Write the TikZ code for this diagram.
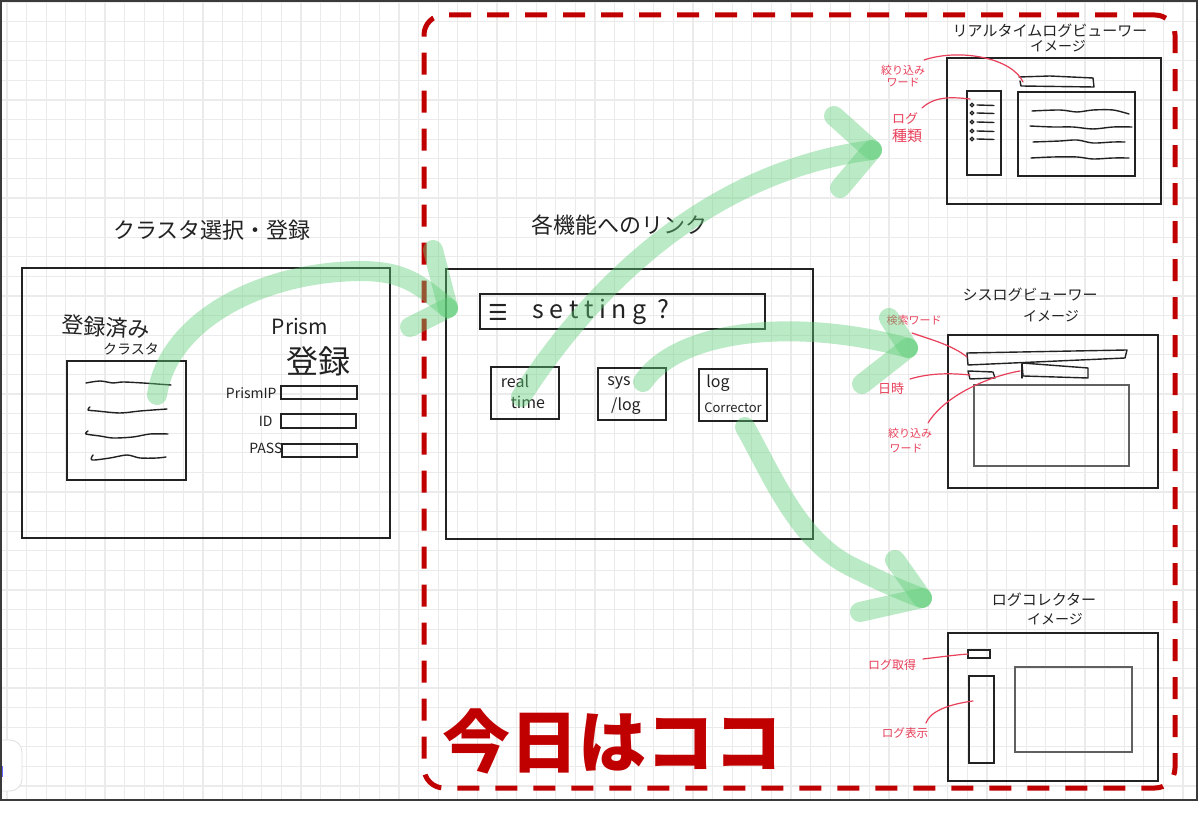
\documentclass[tikz,border=0pt]{standalone}
\usepackage{fontspec}
\setmainfont{Noto Sans CJK JP}
\newfontfamily\symfont{DejaVu Sans}
\usetikzlibrary{fit}
\definecolor{dred}{HTML}{C00000}
\definecolor{ared}{HTML}{E8405A}
\definecolor{gline}{HTML}{EBEBEB}
\definecolor{ink}{HTML}{222222}
\definecolor{framec}{HTML}{3A3A3A}
\definecolor{garrow}{HTML}{5FCF78}
\newcommand\myfs[1]{\fontsize{#1pt}{#1pt}\selectfont}
\newcommand\pxbox[6][]{\coordinate (#2-a) at (#3,#4);\coordinate (#2-b) at (#5,#6);\node[fit=(#2-a)(#2-b),inner sep=0pt,outer sep=0pt,#1] (#2) {};}
\begin{document}
\begin{tikzpicture}[x=0.5pt,y=-0.5pt,
  box/.style={draw=ink,line width=0.75pt},
  lbox/.style={draw=gray!75!black,line width=0.6pt},
  inkline/.style={draw=ink,line width=0.7pt,line cap=round,line join=round},
  hand/.style={inner sep=0pt,text=ink},
  anno/.style={inner sep=0pt,text=ared},
  annoline/.style={draw=ared,line width=0.6pt,line cap=round},
  greenarrow/.style={draw=garrow,draw opacity=0.42,line width=10pt,line cap=round,line join=round}]
\useasboundingbox (0,0) rectangle (1200,833);
\fill[white] (0,0) rectangle (1200,833);
% grid
\begin{scope}
\clip (2,2) rectangle (1197,800);
\foreach \i in {0,...,60} \draw[gline,line width=0.65pt] ({7+19.6*\i},0) -- ({7+19.6*\i},800);
\foreach \i in {0,...,40} \draw[gline,line width=0.65pt] (0,{2+19.6*\i}) -- (1200,{2+19.6*\i});
\draw[gray!25,fill=white,rounded corners=6pt] (-20,740) rectangle (22,791);
\draw[blue!60,line width=1pt] (2,766) -- (2,777);
\end{scope}
\draw[framec,line width=1.1pt] (1,1) rectangle (1197,800);

% ---------- left screen ----------
\node[hand,font=\myfs{11}] (t-left) at (212,230) {クラスタ選択・登録};
\pxbox[box]{leftbox}{22}{268}{390}{538}
\node[hand,font=\myfs{11},rotate=-3] (t-reg) at (106,327) {登録済み};
\node[hand,font=\myfs{7}] (t-cl) at (131,349) {クラスタ};
\pxbox[box]{listbox}{67}{361}{186}{480}
\draw[inkline] plot[smooth] coordinates {(86,383) (100,381) (113,383) (123,382) (143,383) (157,384) (171,385)};
\draw[inkline] plot[smooth] coordinates {(90,407) (88,410) (97,411) (120,413) (140,411) (167,409)};
\draw[inkline] plot[smooth] coordinates {(88,431) (86,434) (100,436) (113,438) (133,437) (150,434) (168,434)};
\draw[inkline] plot[smooth] coordinates {(93,455) (92,460) (110,458) (127,455) (140,458) (157,458) (166,457)};
\node[hand,font=\myfs{10.5}] (t-prism) at (300,327) {Prism};
\node[hand,font=\myfs{16}] (t-preg) at (318,361) {登録};
\node[hand,font=\myfs{7},anchor=east] (t-ip) at (277,393) {PrismIP};
\node[hand,font=\myfs{7},anchor=east] (t-id) at (273,421) {ID};
\node[hand,font=\myfs{7},anchor=west] (t-pass) at (249,448) {PASS};
\pxbox[box]{ipbox}{281}{386}{357}{399}
\pxbox[box]{idbox}{281}{414}{356}{428}
\pxbox[box]{passbox}{282}{444}{357}{457}

% ---------- middle screen ----------
\node[hand,font=\myfs{11}] (t-mid) at (619,225) {各機能へのリンク};
\pxbox[box]{midbox}{446}{269}{813}{539}
\pxbox[box]{setbar}{480}{294}{765}{329}
\node[hand,font=\symfont\myfs{11}] (t-menu) at (498,312) {☰};
\node[hand,font=\myfs{12.5}] (t-set) at (601,312) {s e t t i n g\ \ ?};
\pxbox[box]{rtbox}{491}{367}{559}{419}
\pxbox[box]{sysbox}{598}{368}{666}{420}
\pxbox[box]{colbox}{699}{369}{767}{421}
\node[hand,font=\myfs{8}] (t-real) at (515,381) {real};
\node[hand,font=\myfs{8}] (t-time) at (528,402) {time};
\node[hand,font=\myfs{8}] (t-sys) at (619,383) {sys};
\node[hand,font=\myfs{8}] (t-slog) at (626,406) {/log};
\node[hand,font=\myfs{8}] (t-log) at (718,383) {log};
\node[hand,font=\myfs{6.5}] (t-corr) at (733,408) {Corrector};

% ---------- realtime log viewer ----------
\node[hand,font=\myfs{7.5}] (t-rt) at (1050,31) {リアルタイムログビューワー};
\node[hand,font=\myfs{7}] (t-rti) at (1058,46) {イメージ};
\pxbox[box]{rtview}{947}{58}{1161}{204}
\pxbox[box]{rtleft}{967}{91}{1001}{175}
\pxbox[box]{rtright}{1018}{92}{1135}{176}
\draw[inkline] (1019,77) -- (1050,76) -- (1093,78) -- (1094,87) -- (1021,86) -- (1020,81);
\foreach \y in {105,113,122,131,139} {
  \draw[ink,line width=0.6pt] (972,\y) circle (1.8);
  \draw[inkline] (977,\y) -- (994,{\y+0.5});
}
\draw[inkline] plot[smooth] coordinates {(1032,111) (1060,110) (1077,112) (1093,110) (1113,110) (1129,114)};
\draw[inkline] plot[smooth] coordinates {(1030,126) (1053,127) (1073,127) (1093,129) (1113,127) (1132,127)};
\draw[inkline] plot[smooth] coordinates {(1033,142) (1060,141) (1077,140) (1093,143) (1113,142) (1125,142)};
\draw[inkline] plot[smooth] coordinates {(1031,158) (1053,157) (1077,157) (1093,159) (1113,158) (1129,158)};
\node[anno,font=\myfs{5.5}] (a-filt1) at (903,70) {絞り込み};
\node[anno,font=\myfs{5.5}] (a-word1) at (903,83) {ワード};
\node[anno,font=\myfs{6.5}] (a-log1) at (905,118) {ログ};
\node[anno,font=\myfs{7.5}] (a-kind) at (907,136) {種類};
\coordinate (r1s) at (924,60);
\coordinate (r1e) at (1023,82);
\draw[annoline] (r1s) .. controls (960,48) and (1012,58) .. (r1e);
\coordinate (r2s) at (922,108);
\coordinate (r2e) at (970,99);
\draw[annoline] (r2s) .. controls (935,96) and (952,97) .. (r2e);

% ---------- syslog viewer ----------
\node[hand,font=\myfs{7.5}] (t-sl) at (1030,295) {シスログビューワー};
\node[hand,font=\myfs{7}] (t-sli) at (1051,316) {イメージ};
\pxbox[box]{sysview}{948}{335}{1158}{488}
\pxbox[lbox]{sysinner}{974}{385}{1129}{466}
\draw[inkline] (967,353) -- (1127,350) -- (1125,358) -- (968,365) -- cycle;
\draw[inkline] (968,371) -- (993,372) -- (995,378) -- (970,379) -- cycle;
\draw[inkline] (1022,363) -- (1088,368) -- (1088,378) -- (1023,376) -- cycle;
\draw[inkline] (1022,364) -- (1022,378);
\node[anno,font=\myfs{5.5}] (a-search) at (914,320) {検索ワード};
\node[anno,font=\myfs{6.5}] (a-date) at (891,389) {日時};
\node[anno,font=\myfs{5.5}] (a-filt2) at (910,433) {絞り込み};
\node[anno,font=\myfs{5.5}] (a-word2) at (906,449) {ワード};
\coordinate (r3s) at (912,333);
\coordinate (r3e) at (967,357);
\draw[annoline] (r3s) .. controls (932,340) and (952,345) .. (r3e);
\coordinate (r4s) at (910,379);
\coordinate (r4e) at (970,375);
\draw[annoline] (r4s) .. controls (930,373) and (950,373) .. (r4e);
\coordinate (r5s) at (928,423);
\coordinate (r5e) at (1020,371);
\draw[annoline] (r5s) .. controls (945,395) and (990,376) .. (r5e);

% ---------- log collector ----------
\node[hand,font=\myfs{7.5}] (t-lc) at (1044,600) {ログコレクター};
\node[hand,font=\myfs{7}] (t-lci) at (1055,619) {イメージ};
\pxbox[box]{colview}{948}{633}{1158}{781}
\pxbox[box]{getbtn}{968}{650}{990}{658}
\pxbox[box]{logpanel}{969}{676}{994}{763}
\pxbox[lbox]{colinner}{1015}{667}{1132}{752}
\node[anno,font=\myfs{6}] (a-get) at (892,665) {ログ取得};
\node[anno,font=\myfs{5.8}] (a-show) at (905,733) {ログ表示};
\coordinate (r6s) at (923,659);
\draw[annoline] (r6s) .. controls (940,657) and (955,655) .. (getbtn.west);
\coordinate (r7s) at (926,723);
\coordinate (r7e) at (973,701);
\draw[annoline] (r7s) .. controls (930,711) and (950,704) .. (r7e);

% ---------- today frame ----------
\pxbox[draw=dred,line width=2.5pt,dash pattern=on 11pt off 8pt,rounded corners=10pt]{today}{424}{15}{1175}{788}
\node[inner sep=0pt,text=dred,font=\bfseries\myfs{34}] (t-today) at (612,741) {今日はココ};

% ---------- green arrows ----------
\coordinate (g1s) at (157,395);
\coordinate (g1e) at (448,308);
\coordinate (g1a) at (433,250);
\coordinate (g1b) at (410,327);
\draw[greenarrow] (g1s) .. controls (168,320) and (262,272) .. (360,271) .. controls (405,271) and (420,285) .. (g1e);
\draw[greenarrow] (g1a) -- (g1e);
\draw[greenarrow] (g1b) -- (g1e);

\coordinate (g2s) at (521,397);
\coordinate (g2e) at (872,150);
\coordinate (g2a) at (834,116);
\coordinate (g2b) at (840,188);
\draw[greenarrow] (g2s) .. controls (590,290) and (705,172) .. (g2e);
\draw[greenarrow] (g2a) -- (g2e);
\draw[greenarrow] (g2b) -- (g2e);

\coordinate (g3s) at (643,382);
\coordinate (g3e) at (908,348);
\coordinate (g3a) at (889,318);
\coordinate (g3b) at (862,384);
\draw[greenarrow] (g3s) .. controls (680,328) and (800,318) .. (g3e);
\draw[greenarrow] (g3a) -- (g3e);
\draw[greenarrow] (g3b) -- (g3e);

\coordinate (g4s) at (745,427);
\coordinate (g4e) at (922,598);
\coordinate (g4a) at (895,560);
\coordinate (g4b) at (860,612);
\draw[greenarrow] (g4s) .. controls (772,475) and (798,540) .. (850,566) .. controls (880,581) and (900,590) .. (g4e);
\draw[greenarrow] (g4a) -- (g4e);
\draw[greenarrow] (g4b) -- (g4e);
\end{tikzpicture}
\end{document}
